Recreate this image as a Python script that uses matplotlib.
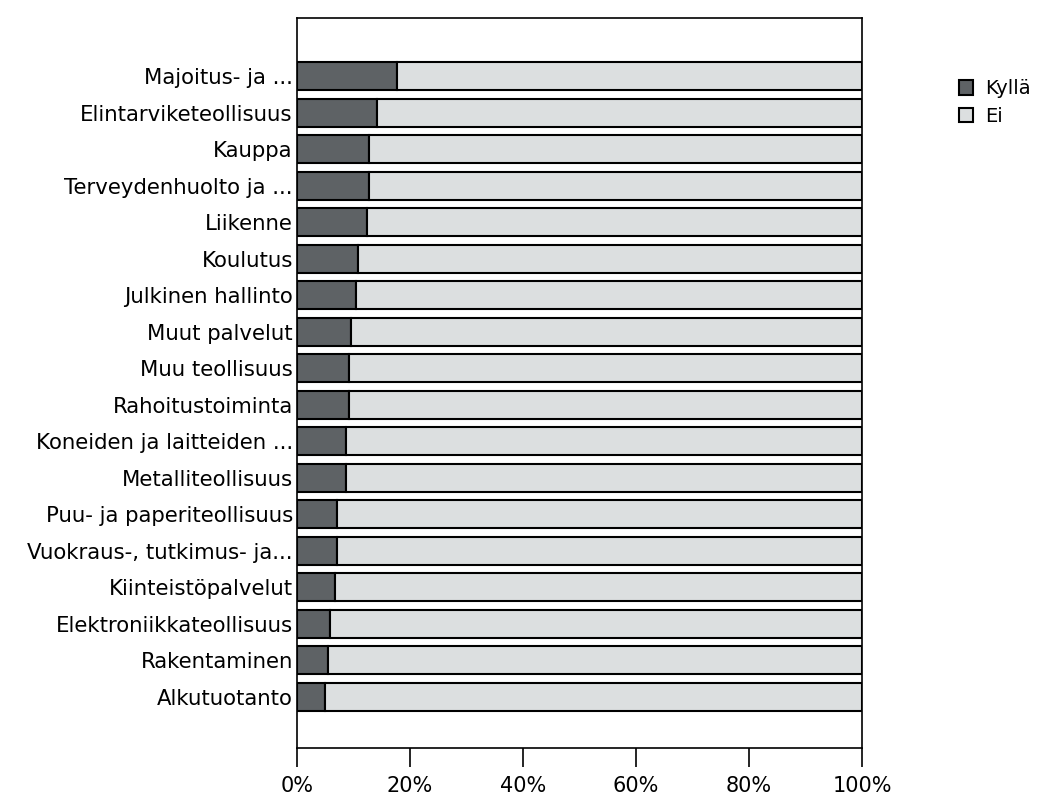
import matplotlib
matplotlib.use("Agg")
import matplotlib.pyplot as plt
from matplotlib.ticker import PercentFormatter

# Share of respondents per sector (Kyllä / Ei), percent
categories = [
    "Majoitus- ja ...",
    "Elintarviketeollisuus",
    "Kauppa",
    "Terveydenhuolto ja ...",
    "Liikenne",
    "Koulutus",
    "Julkinen hallinto",
    "Muut palvelut",
    "Muu teollisuus",
    "Rahoitustoiminta",
    "Koneiden ja laitteiden ...",
    "Metalliteollisuus",
    "Puu- ja paperiteollisuus",
    "Vuokraus-, tutkimus- ja...",
    "Kiinteistöpalvelut",
    "Elektroniikkateollisuus",
    "Rakentaminen",
    "Alkutuotanto",
]
kylla = [17.7, 14.1, 12.8, 12.8, 12.4, 10.8, 10.4, 9.5, 9.2,
         9.2, 8.7, 8.7, 7.1, 7.1, 6.7, 5.8, 5.4, 5.0]
ei = [100 - k for k in kylla]

plt.rcParams["font.family"] = ["DejaVu Sans"]

fig = plt.figure(figsize=(10.47, 7.98), dpi=100)
ax = fig.add_axes([0.2837, 0.0627, 0.5396, 0.9147])

y = list(range(len(categories)))
ax.barh(y, kylla, height=0.77, color="#5e6265", edgecolor="black", linewidth=1.5, label="Kyllä")
ax.barh(y, ei, left=kylla, height=0.77, color="#dcdfe0", edgecolor="black", linewidth=1.5, label="Ei")

ax.set_xlim(0, 100)
ax.set_ylim(len(categories) - 1 + 1.4, -1.6)
ax.set_yticks(y)
ax.set_yticklabels(categories, fontsize=15.3)
ax.tick_params(axis="y", length=0, pad=3)
ax.set_xticks([0, 20, 40, 60, 80, 100])
ax.xaxis.set_major_formatter(PercentFormatter(decimals=0))
ax.tick_params(axis="x", length=14, width=1.2, direction="out", labelsize=15, pad=6)
for s in ax.spines.values():
    s.set_linewidth(1.2)

ax.legend(loc="upper left", bbox_to_anchor=(1.14, 0.94), frameon=False,
          fontsize=14, handlelength=0.75, handleheight=0.75, labelspacing=0.45,
          handletextpad=0.6)

fig.savefig("out.png", dpi=100)
